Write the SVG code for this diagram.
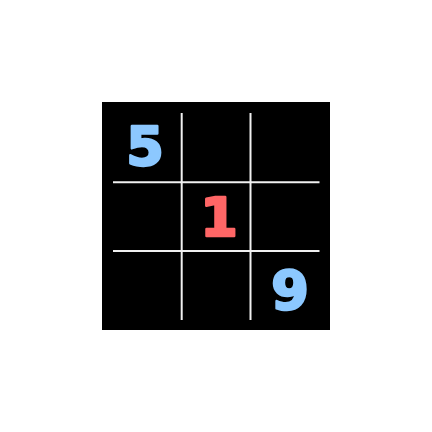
<svg xmlns="http://www.w3.org/2000/svg" width="432" height="432" viewBox="0 0 432 432">
<style>
.grid line{stroke:#f0f0f0;stroke-width:2}
.d{font-family:"DejaVu Sans",sans-serif;font-weight:bold;font-size:54px;text-anchor:middle;stroke-width:2.6;stroke-linejoin:round}
.b{fill:#8cc8ff;stroke:#8cc8ff}
.r{fill:#ff6666;stroke:#ff6666}
</style>
<rect width="432" height="432" fill="#ffffff"/>
<rect id="board" x="102" y="102" width="228" height="228" fill="#000000"/>
<g id="grid" class="grid">
<line x1="181.7" y1="113" x2="181.7" y2="320"/>
<line x1="250.5" y1="113" x2="250.5" y2="320"/>
<line x1="113" y1="182.3" x2="319.5" y2="182.3"/>
<line x1="113" y1="251" x2="319.5" y2="251"/>
</g>
<g id="cell-5"><text class="d b" x="145" y="164.5">5</text></g>
<g id="cell-1"><text class="d r" x="219" y="235.5">1</text></g>
<g id="cell-9"><text class="d b" x="290" y="308.5">9</text></g>
</svg>
